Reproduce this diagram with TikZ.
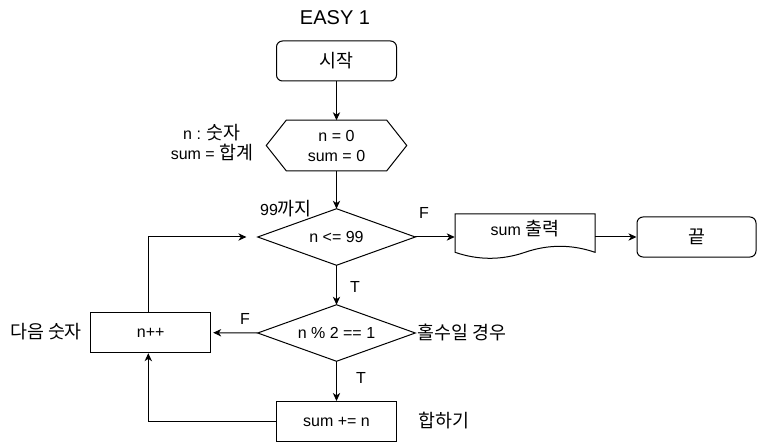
\documentclass[tikz,border=0pt]{standalone}
\usepackage{fontspec}
\setmainfont{Liberation Sans}
\newfontfamily\kr[Scale=1.15]{Noto Sans CJK KR}
\usetikzlibrary{arrows.meta}
\tikzset{
  px/.style={x=0.75pt,y=-0.75pt},
  base/.style={font=\fontsize{12}{15}\selectfont, inner sep=0pt, align=center},
  procbox/.style={base, draw, line width=0.75pt, minimum width=90pt, minimum height=30pt},
  roundbox/.style={procbox, rounded corners=4.5pt},
  ghost/.style={base, draw=none},
  lbl/.style={base},
  conn/.style={line width=0.75pt, -{Stealth[length=6pt,width=5.5pt,inset=1.8pt]}},
  outline/.style={line width=0.75pt, line join=miter},
}
\begin{document}
\begin{tikzpicture}[px]
\useasboundingbox (0,0) rectangle (757,442);
% title
\node[base, font=\fontsize{15}{18}\selectfont] (title) at (335,18) {EASY 1};
% nodes
\node[roundbox] (start) at (336.5,61) {\kr 시작};
\node[ghost, minimum width=105pt, minimum height=37.5pt] (init) at (336.5,145.5) {n = 0\\sum = 0};
\draw[outline] (init.west) -- ([xshift=15pt]init.north west) -- ([xshift=-15pt]init.north east) -- (init.east) -- ([xshift=-15pt]init.south east) -- ([xshift=15pt]init.south west) -- cycle;
\node[ghost, minimum width=117.75pt, minimum height=42pt] (d1) at (336.5,237) {n {<}= 99};
\draw[outline] (d1.north) -- (d1.east) -- (d1.south) -- (d1.west) -- cycle;
\node[ghost, minimum width=105pt] (doc) at (525,229) {sum {\kr 출력}};
\draw[outline] (455,214) -- (595,214) -- (595,252.3)
  .. controls (571.7,244.3) and (548.3,244.3) .. (525,252.3)
  .. controls (501.7,260.3) and (478.3,260.3) .. (455,252.3) -- cycle;
\node[roundbox, minimum width=89.25pt] (endb) at (696.5,237) {\kr 끝};
\node[ghost, minimum width=117.75pt, minimum height=42pt] (d2) at (336.5,333) {n \% 2 == 1};
\draw[outline] (d2.north) -- (d2.east) -- (d2.south) -- (d2.west) -- cycle;
\node[procbox] (npp) at (150.7,332.7) {n++};
\node[procbox] (sumb) at (336.5,421.5) {sum += n};
% connectors
\draw[conn] (start) -- (init);
\draw[conn] (init) -- (d1);
\draw[conn] (d1.east) -- (d1.east -| doc.west);
\draw[conn] (doc.east |- endb.west) -- (endb.west);
\draw[conn] (d1) -- (d2);
\draw[conn, shorten >=1.5pt] (d2.west) -- (npp.east);
\draw[conn] (d2) -- (sumb);
\draw[conn] (sumb.west) -| ([xshift=-1.8pt]npp.south);
\draw[conn, shorten >=8.5pt] ([xshift=-1.8pt]npp.north) |- (d1.west);
% labels
\node[lbl] (initlbl) at (212,142.5) {n : {\kr 숫자}\\sum = {\kr 합계}};
\node[lbl] (d1lbl) at (286,209) {99{\kr 까지}};
\node[lbl] (f1) at (424,213) {F};
\node[lbl] (t1) at (355,287) {T};
\node[lbl] (f2) at (245,319) {F};
\node[lbl] (d2lbl) at (462,332) {\kr 홀수일 경우};
\node[lbl] (npplbl) at (46,332) {\kr 다음 숫자};
\node[lbl] (t2) at (361,378) {T};
\node[lbl] (sumlbl) at (444,421) {\kr 합하기};
\end{tikzpicture}
\end{document}
